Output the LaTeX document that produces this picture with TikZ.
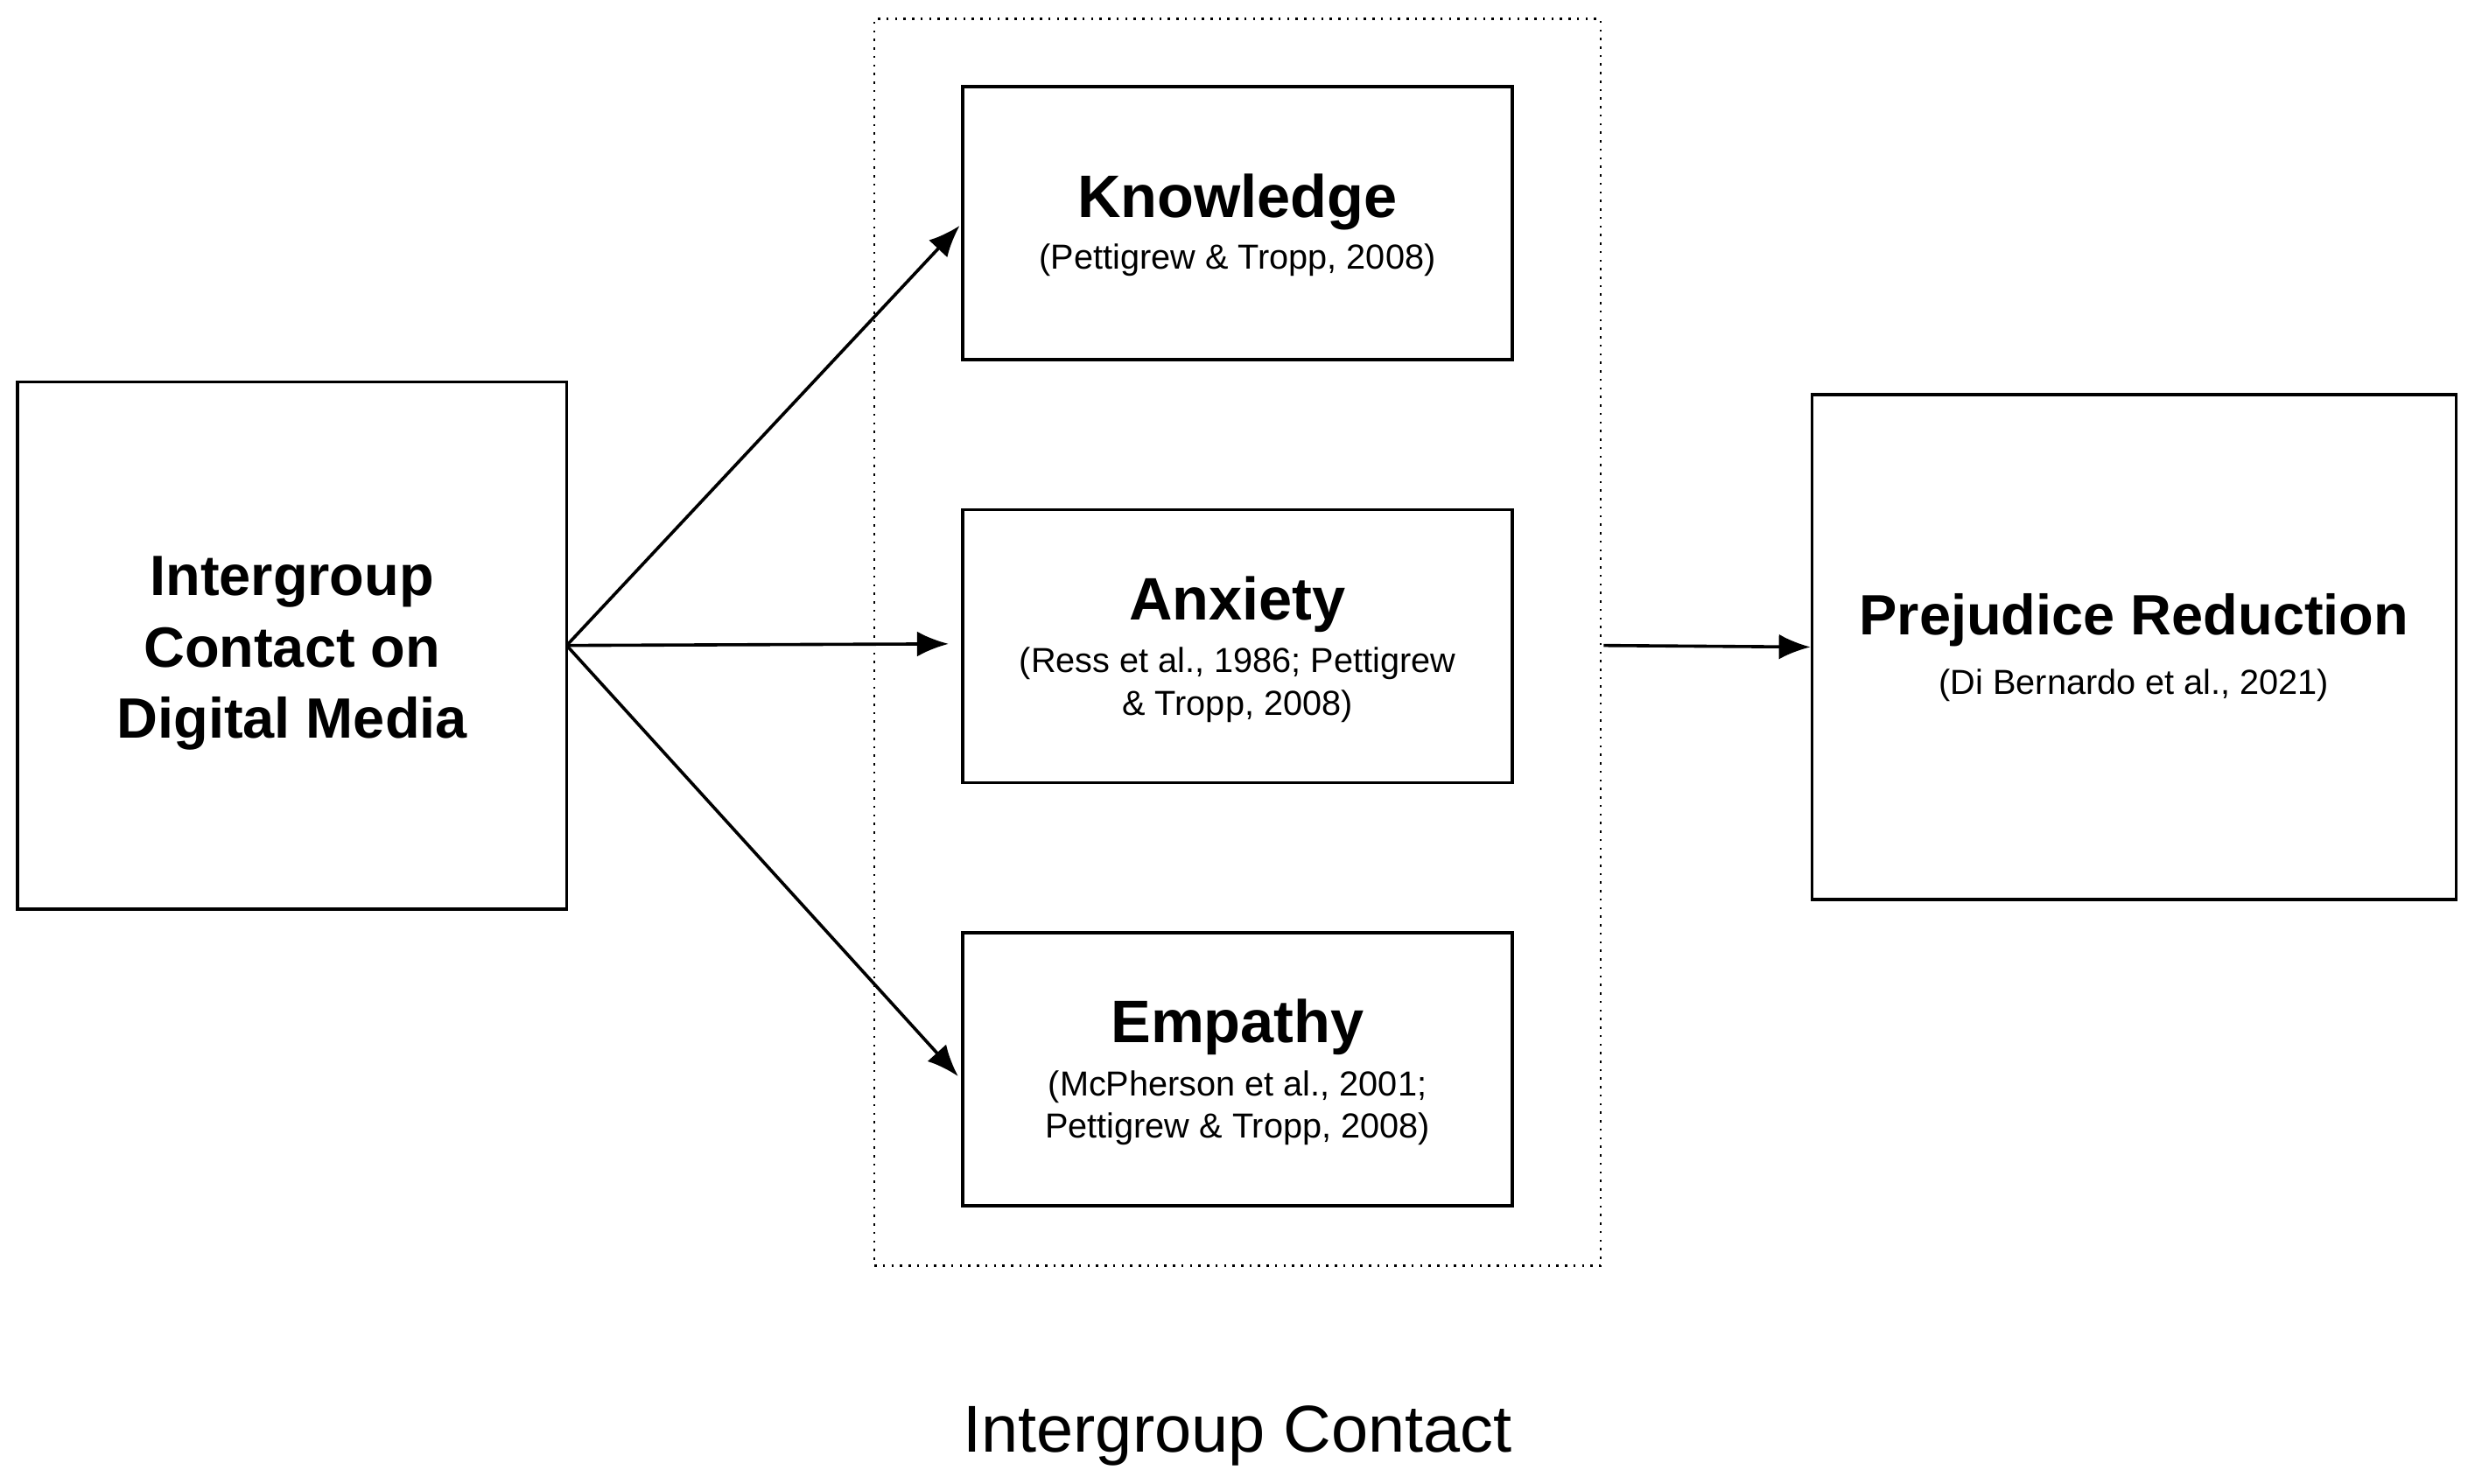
\documentclass[tikz,border=0pt]{standalone}
\usepackage{fontspec}
\setmainfont{Liberation Sans}
\usetikzlibrary{arrows.meta}
\begin{document}
\begin{tikzpicture}[x=0.5pt,y=-0.5pt,
  box/.style={draw, line width=1pt, inner sep=0pt},
  ttl/.style={font=\fontsize{19}{23}\selectfont\bfseries, inner sep=0pt},
  cite/.style={font=\fontsize{11}{13.5}\selectfont, align=center, inner sep=0pt},
  arr/.style={line width=1pt, -{Latex[length=10pt,width=8pt]}}]
\useasboundingbox (0,0) rectangle (1568,940);
\node[draw, dotted, line width=0.7pt, minimum width=230pt, minimum height=395pt] (grp) at (784,407) {};
\node[box, minimum width=174pt, minimum height=167pt] (src) at (185,409) {};
\node[align=center, font=\fontsize{18}{22.5}\selectfont\bfseries] (srct) at (185,414) {Intergroup\\Contact on\\Digital Media};
\node[box, minimum width=174pt, minimum height=86.5pt] (kn) at (784,141.5) {};
\node[ttl] (knt) at (784,128) {Knowledge};
\node[cite] (knc) at (784,165) {(Pettigrew \& Tropp, 2008)};
\node[box, minimum width=174pt, minimum height=86.5pt] (an) at (784,409.5) {};
\node[ttl] (ant) at (784,383) {Anxiety};
\node[cite] (anc) at (784,434) {(Ress et al., 1986; Pettigrew\\\& Tropp, 2008)};
\node[box, minimum width=174pt, minimum height=86.5pt] (em) at (784,677.5) {};
\node[ttl] (emt) at (784,651) {Empathy};
\node[cite] (emc) at (784,702) {(McPherson et al., 2001;\\Pettigrew \& Tropp, 2008)};
\node[box, minimum width=204pt, minimum height=160pt] (pr) at (1352,410) {};
\node[ttl, font=\fontsize{18}{22}\selectfont\bfseries] (prt) at (1352,393) {Prejudice Reduction};
\node[cite] (prc) at (1352,434) {(Di Bernardo et al., 2021)};
\coordinate (s) at (359,409);
\coordinate (ka) at (608,143);
\coordinate (aa) at (601,408);
\coordinate (ea) at (607,682);
\coordinate (ro) at (1016,409);
\draw[arr] (s) -- (ka);
\draw[arr] (s) -- (aa);
\draw[arr] (s) -- (ea);
\draw[arr] (ro) -- (pr.west);
\node[font=\fontsize{21}{25}\selectfont] (lbl) at (784,910) {Intergroup Contact};
\end{tikzpicture}
\end{document}
